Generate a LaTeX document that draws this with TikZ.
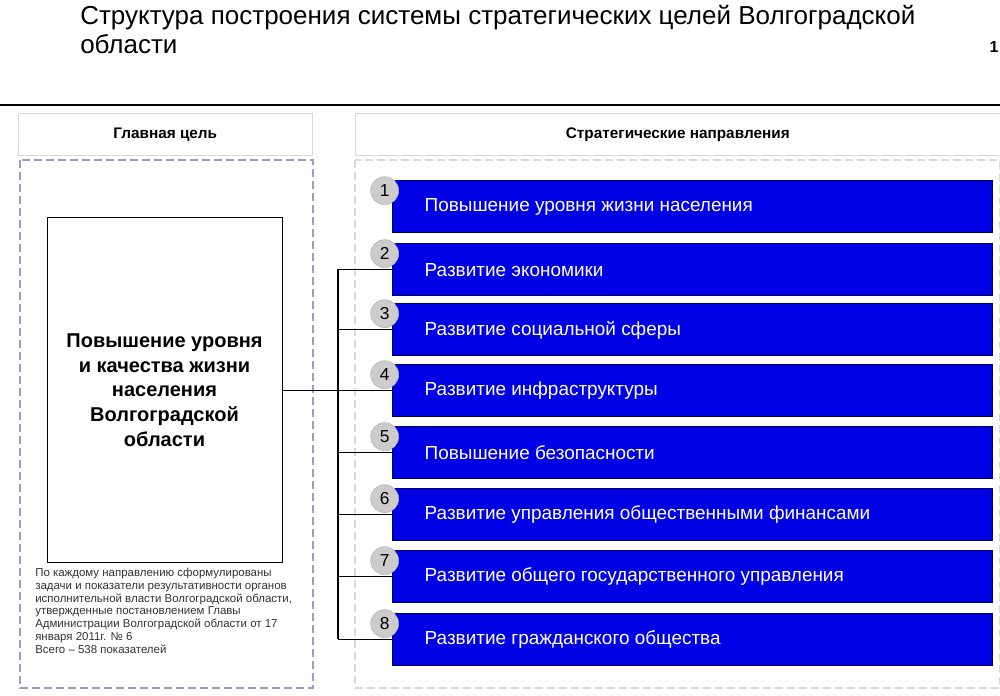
\documentclass[tikz,border=0pt]{standalone}
\usepackage{fontspec}
\setmainfont{Liberation Sans}
\begin{document}
\begin{tikzpicture}[x=0.75pt,y=-0.75pt,
  bar/.style={fill=blue!90!black,draw=blue!40!black,minimum width=450pt,minimum height=39pt,inner sep=0,anchor=north west},
  bartext/.style={text=white,font=\fontsize{14.2}{16}\selectfont,anchor=west},
  num/.style={circle,fill=gray!40,draw=gray!60,minimum size=21pt,inner sep=0,font=\fontsize{13}{15}\selectfont},
  hdr/.style={draw=gray!30,fill=white,font=\bfseries\fontsize{11.5}{14}\selectfont,inner sep=0,anchor=north west},
  conn/.style={black,line width=0.9pt}]
\useasboundingbox (0,0) rectangle (1000,696);
\fill[white] (0,0) rectangle (1000,696);
\node[anchor=north west,align=left,font=\fontsize{19.5}{22}\selectfont,inner sep=0] (title) at (80,5) {Структура построения системы стратегических целей Волгоградской\\области};
\node[font=\bfseries\fontsize{12}{14}\selectfont,inner sep=0] (pg) at (994,47) {1};
\draw[line width=1.5pt] (0,105) -- (1000,105);
\node[hdr,minimum width=220.5pt,minimum height=31.5pt] (h1) at (18,113) {Главная цель};
\node[hdr,minimum width=483.75pt,minimum height=31.5pt] (h2) at (355,113) {Стратегические направления};
\draw[draw=blue!30!gray!60,line width=0.8pt,dash pattern=on 6pt off 3pt] (20,160) rectangle (313,688);
\draw[draw=gray!30,line width=0.8pt,dash pattern=on 6pt off 3pt] (355,160) rectangle (1000,688);
\node[draw,line width=1pt,minimum width=176.25pt,minimum height=258.75pt,anchor=north west,inner sep=0] (goal) at (47,217) {};
\node[align=center,font=\bfseries\fontsize{15}{18.5}\selectfont] (gt) at (164.5,390) {Повышение уровня\\и качества жизни\\населения\\Волгоградской\\области};
\node[anchor=north west,align=left,font=\fontsize{8.6}{9.6}\selectfont,text=black!80,inner sep=0] (note) at (35,568) {По каждому направлению сформулированы\\задачи и показатели результативности органов\\исполнительной власти Волгоградской области,\\утвержденные постановлением Главы\\Администрации Волгоградской области от 17\\января 2011г. № 6\\Всего -- 538 показателей};
\foreach \i/\y/\t in {1/180/Повышение уровня жизни населения,2/243/Развитие экономики,3/303/Развитие социальной сферы,4/364/Развитие инфраструктуры,5/426/Повышение безопасности,6/488/Развитие управления общественными финансами,7/550/Развитие общего государственного управления,8/613/Развитие гражданского общества}{
  \node[bar] (b\i) at (392,\y) {};
  \node[bartext] (t\i) at (420,\y+27) {\t};
}
\coordinate (trunk) at (338,390);
\foreach \i in {2,...,8}{
  \draw[conn] (b\i.west) -- (b\i.west -| trunk);
}
\draw[conn] (b2.west -| trunk) -- (b8.west -| trunk);
\draw[conn] (goal.east |- b4.west) -- (b4.west -| trunk);
\foreach \i in {1,...,8}{
  \node[num] (n\i) at ([xshift=-5.5pt,yshift=-8pt]b\i.north west) {\i};
}
\end{tikzpicture}
\end{document}
